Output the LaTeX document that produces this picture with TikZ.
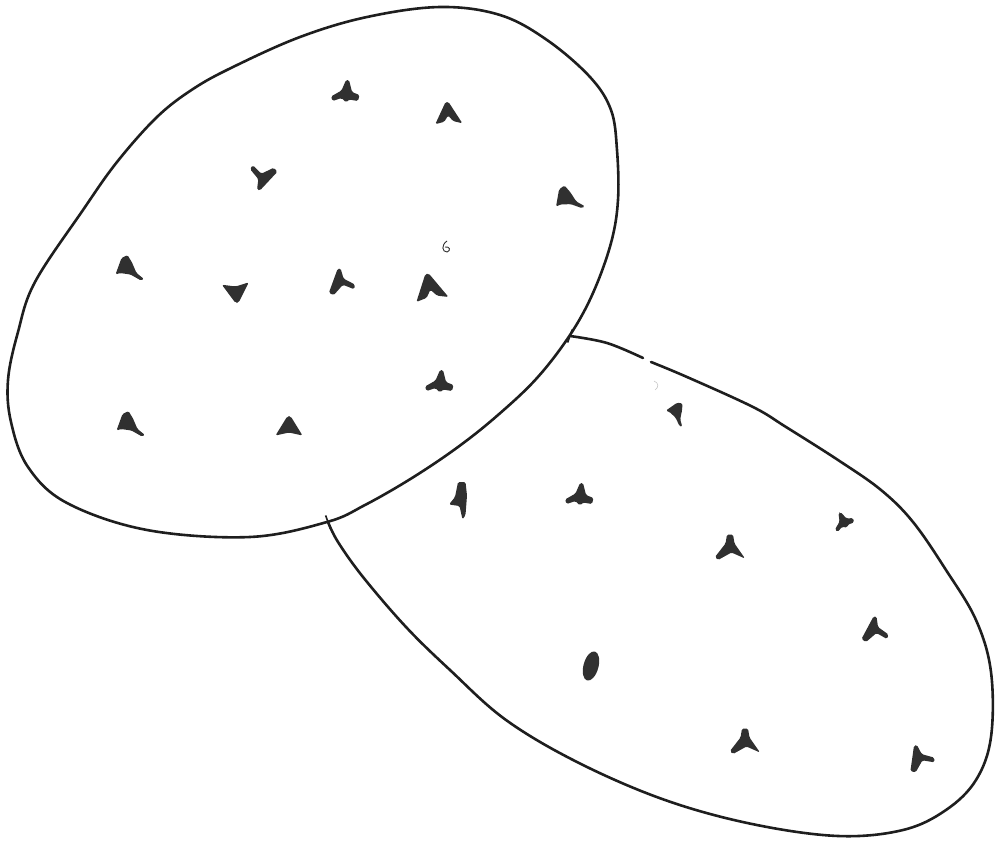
\documentclass[tikz,border=0pt]{standalone}
\definecolor{inkc}{HTML}{1E1E1E}
\definecolor{markc}{HTML}{303030}
\tikzset{
  outline/.style={draw=inkc,line width=2.6pt,line join=round,line cap=round},
  chev/.pic={\fill[markc,rounded corners=1.5pt] (-9,6) -- (-1,-8) -- (1,-8) -- (9,7) -- (3,5) -- (0,1) -- (-3,5) -- cycle;},
  wing/.pic={\fill[markc,rounded corners=1.5pt] (-10,3) -- (-3,-1) -- (0,-8) -- (2,-8) -- (4,0) -- (9,2) -- (8,6) -- (2,5) -- (0,7) -- (-3,4) -- (-9,6) -- cycle;},
  yee/.pic={\fill[markc,rounded corners=1.5pt] (-9,6) -- (-1,-9) -- (1,-9) -- (2,-2) -- (9,3) -- (8,6) -- (1,2) -- (-6,8) -- cycle;},
  tail/.pic={\fill[markc,rounded corners=1.5pt] (-9,5) -- (-5,-6) -- (-1,-8) -- (2,-3) -- (5,4) -- (10,8) -- (8,9) -- (1,5) -- (-6,4) -- cycle;},
  tri/.pic={\fill[markc,rounded corners=2pt] (-9,5) -- (-1,-8) -- (1,-8) -- (9,5) -- (0,3) -- cycle;},
  fly/.pic={\fill[markc,rounded corners=1.5pt] (-10,6) -- (-3,-3) -- (-2,-9) -- (2,-9) -- (3,-3) -- (10,7) -- (1,3) -- (-8,8) -- cycle;},
  tall/.pic={\fill[markc,rounded corners=1.5pt] (-2,-12) -- (3,-12) -- (4,-3) -- (3,10) -- (1,13) -- (-1,4) -- (-8,3) -- (-4,-2) -- cycle;},
  bean/.pic={\fill[markc] (0,0) ellipse[x radius=5pt,y radius=10pt];},
  tick/.pic={\draw[inkc,line width=1.6pt] (0,-7) -- (0,7);},
  mk/.style={scale=1.5}
}
\begin{document}
\begin{tikzpicture}[x=1pt,y=-1pt]
\useasboundingbox (0,0) rectangle (997,846);
% lower oval (visible part, with the small gap near the top)
\coordinate (ja) at (570,336);
\coordinate (jb) at (328,522);
\draw[outline] plot[smooth,tension=0.6] coordinates {(ja) (607,343) (643,358)};
\draw[outline] plot[smooth,tension=0.6] coordinates {
 (651,362) (687,377) (753,407) (786,427) (838,460) (881,490) (913,522) (946,570)
 (976,620) (991,672) (991,737) (976,780) (946,810) (903,830) (838,836) (752,824)
 (665,800) (579,763) (506,720) (450,670) (406,627) (363,577) (338,542) (jb)};
% upper oval
\draw[outline,fill=white] plot[smooth cycle,tension=0.6] coordinates {
 (8,380) (11,422) (28,467) (67,503) (147,530) (250,537) (327,522) (365,505)
 (412,478) (458,447) (498,415) (537,378) (570,335) (593,293) (611,243) (618,200)
 (617,150) (611,110) (590,77) (547,40) (500,15) (440,7) (367,17) (300,37) (233,67)
 (193,89) (157,117) (117,162) (83,210) (35,282) (18,332)};
% junction ticks
\pic[rotate=20] (tl) at (jb) {tick};
\pic[rotate=-20] (tr) at (ja) {tick};
% marks, upper oval
\pic[mk] (m1) at (346,92) {wing};
\pic[mk,rotate=5] (m2) at (448,114) {chev};
\pic[mk,rotate=165] (m3) at (262,177) {yee};
\pic[mk,rotate=10] (m4) at (568,197) {tail};
\draw[markc,line width=0.9pt] (447,241) .. controls (441,245) and (442,252) .. (447,252) .. controls (451,251) and (450,246) .. (445,247);
\pic[mk] (m6) at (129,267) {tail};
\pic[mk,rotate=185] (m7) at (236,291) {tri};
\pic[mk,rotate=8] (m8) at (341,282) {yee};
\pic[mk,rotate=12,scale=1.2] (m9) at (430,288) {chev};
\pic[mk] (m10) at (440,382) {wing};
\pic[mk] (m11) at (130,423) {tail};
\pic[mk] (m12) at (289,428) {tri};
% marks, lower oval
\pic[mk,rotate=-35,scale=0.8] (m13) at (678,412) {tail};
\draw[gray!45,line width=0.6pt] (654,381) .. controls (659,383) and (659,387) .. (655,390);
\pic[mk] (m15) at (461,500) {tall};
\pic[mk] (m16) at (580,495) {wing};
\pic[mk] (m17) at (730,548) {fly};
\pic[mk,rotate=30,scale=0.75] (m18) at (843,521) {wing};
\pic[mk] (m19) at (875,630) {yee};
\pic[mk,rotate=-15] (m20) at (591,666) {bean};
\pic[mk] (m21) at (745,742) {fly};
\pic[mk,rotate=20] (m22) at (920,758) {yee};
\end{tikzpicture}
\end{document}
